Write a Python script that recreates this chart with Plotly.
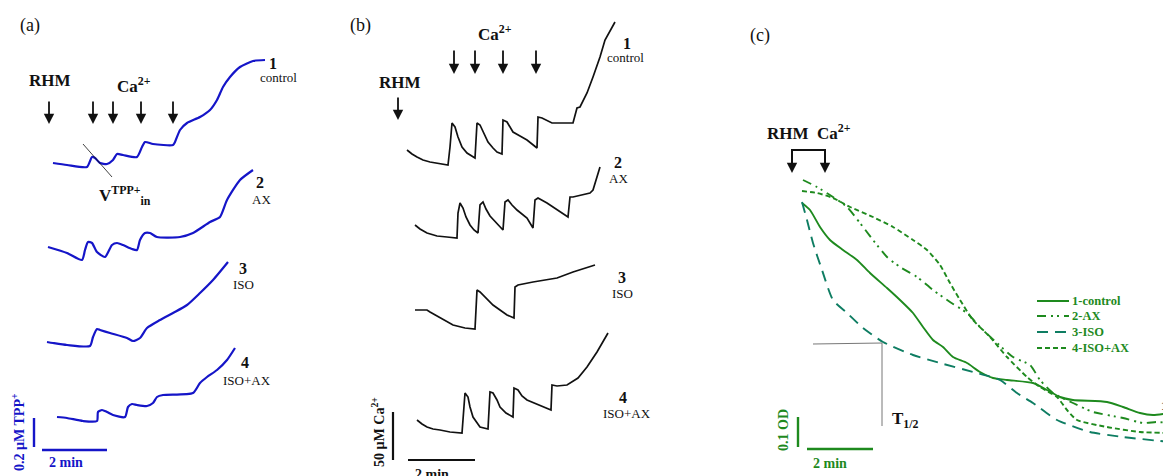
import plotly.graph_objects as go

# ---------------- data (chart units: x = time, y = signal, screen-down) -------------
# panel (a): TPP+ traces
a1_t = [53, 67, 87, 92, 95, 100, 107, 113, 117, 123, 137, 142, 145, 153, 173, 175, 180, 187, 200, 210, 217, 223, 230, 240, 253, 265]
a1_y = [163, 165, 167, 157, 158, 163, 164, 160, 154, 155, 157, 147, 142, 144, 145, 142, 130, 123, 117, 110, 100, 87, 77, 67, 61, 60]
a2_t = [48, 67, 82, 85, 88, 92, 97, 105, 112, 117, 123, 132, 137, 140, 145, 150, 157, 180, 193, 210, 220, 227, 240, 253]
a2_y = [247, 253, 260, 250, 242, 243, 252, 257, 245, 243, 245, 249, 250, 240, 233, 233, 237, 237, 233, 222, 217, 200, 180, 170]
a3_t = [47, 53, 67, 90, 93, 97, 100, 110, 127, 133, 140, 147, 160, 173, 187, 200, 213, 228]
a3_y = [342, 343, 345, 346, 337, 329, 330, 333, 338, 341, 338, 328, 320, 313, 305, 293, 280, 262]
a4_t = [57, 67, 83, 97, 98, 102, 107, 113, 125, 128, 132, 137, 147, 153, 157, 163, 193, 200, 207, 217, 227, 235]
a4_y = [417, 418, 421, 421, 412, 410, 412, 415, 417, 407, 404, 405, 406, 403, 397, 395, 393, 383, 377, 370, 360, 348]

# panel (b): Ca2+ traces
b1_t = [407, 412, 417, 423, 430, 440, 448, 450, 452, 455, 458, 462, 467, 475, 477, 480, 484, 488, 493, 497, 502, 503, 507, 513, 520, 527, 537, 538, 542, 552, 573, 577, 580, 587, 593, 600, 605, 615]
b1_y = [150, 154, 157, 160, 162, 164, 165, 147, 123, 127, 137, 147, 153, 158, 123, 125, 134, 142, 148, 152, 154, 120, 122, 132, 136, 140, 148, 117, 118, 123, 123, 108, 107, 93, 77, 57, 40, 22]
b2_t = [415, 420, 427, 437, 447, 457, 458, 460, 463, 466, 470, 474, 478, 480, 483, 486, 490, 497, 503, 505, 508, 512, 517, 527, 533, 535, 538, 547, 560, 568, 570, 573, 590, 593, 600]
b2_y = [225, 229, 233, 236, 237, 238, 213, 203, 208, 217, 225, 230, 233, 205, 202, 209, 216, 223, 230, 202, 200, 205, 210, 218, 228, 200, 198, 203, 212, 217, 197, 197, 193, 190, 167]
b3_t = [415, 427, 430, 440, 453, 465, 475, 477, 480, 493, 507, 514, 515, 518, 533, 557, 573, 595]
b3_y = [310, 310, 312, 318, 325, 328, 329, 290, 292, 305, 315, 318, 287, 285, 282, 278, 272, 265]
b4_t = [417, 422, 427, 433, 440, 450, 462, 465, 468, 470, 473, 477, 480, 488, 490, 493, 497, 500, 506, 513, 514, 518, 522, 527, 540, 551, 552, 557, 567, 578, 587, 597, 608]
b4_y = [420, 424, 427, 429, 430, 432, 433, 393, 397, 407, 417, 423, 427, 429, 392, 393, 400, 407, 413, 417, 388, 390, 396, 400, 405, 410, 385, 386, 385, 378, 367, 352, 333]

# panel (c): optical density traces
c1_t = [802, 810, 820, 830, 843, 857, 870, 887, 900, 913, 923, 933, 943, 953, 967, 980, 993, 1007, 1033, 1047, 1060, 1073, 1107, 1123, 1140, 1153, 1170]
c1_y = [203, 210, 227, 240, 250, 260, 273, 288, 300, 313, 327, 340, 347, 357, 363, 372, 378, 380, 383, 390, 397, 400, 402, 407, 413, 415, 413]
c2_t = [803, 817, 833, 847, 860, 873, 887, 900, 917, 933, 950, 967, 980, 997, 1013, 1030, 1040, 1053, 1073, 1093, 1123, 1143, 1157, 1170]
c2_y = [180, 187, 197, 207, 223, 240, 257, 267, 277, 290, 302, 313, 327, 343, 357, 365, 380, 393, 403, 412, 418, 423, 422, 423]
c3_t = [802, 807, 813, 822, 833, 847, 863, 883, 913, 940, 973, 1000, 1017, 1033, 1057, 1090, 1123, 1170]
c3_y = [202, 220, 243, 270, 300, 313, 328, 342, 355, 363, 372, 380, 393, 403, 420, 432, 437, 442]
c4_t = [802, 817, 833, 850, 873, 893, 913, 927, 940, 950, 960, 973, 990, 1007, 1027, 1040, 1057, 1067, 1077, 1107, 1140, 1170]
c4_y = [191, 193, 198, 207, 217, 227, 240, 250, 265, 283, 300, 320, 337, 357, 377, 387, 397, 410, 420, 427, 432, 433]
c_names = ["1-control", "2-AX", "3-ISO", "4-ISO+AX"]

# event arrows (time positions)
a_rhm = [49]
a_ca = [93, 113, 141, 173]
b_rhm = [398]
b_ca = [454, 475, 503, 536]
c_events = [792, 825]

BLUE = "#1515c8"
BLACK = "#111111"
GREEN = "#1e8a1e"
TEAL = "#0e7d62"
SERIF = "Liberation Serif, Times New Roman, serif"
C_COLORS = [GREEN, GREEN, TEAL, GREEN]
C_DASHES = ["solid", "9px,5px,2px,4px,2px,5px", "11px,7px", "5px,3px"]

fig = go.Figure()

def add(x, y, color, width, dash="solid", shape="spline", smooth=0.6):
    line = dict(color=color, width=width, dash=dash, shape=shape)
    if shape == "spline":
        line["smoothing"] = smooth
    fig.add_trace(go.Scatter(x=x, y=y, mode="lines", line=line,
                             showlegend=False, hoverinfo="skip"))

for t, y in [(a1_t, a1_y), (a2_t, a2_y), (a3_t, a3_y), (a4_t, a4_y)]:
    add(t, y, BLUE, 2.2)
for t, y in [(b1_t, b1_y), (b2_t, b2_y), (b3_t, b3_y), (b4_t, b4_y)]:
    add(t, y, BLACK, 1.7, shape="linear")
for (t, y), col, d in zip([(c1_t, c1_y), (c2_t, c2_y), (c3_t, c3_y), (c4_t, c4_y)], C_COLORS, C_DASHES):
    add(t, y, col, 1.9, d)

# tangent line and T1/2 guide
add([83, 112], [144, 177], BLACK, 0.8, shape="linear")
add([813, 882, 882], [344, 343, 426], "#777777", 1.0, shape="linear")
# bracket in panel c
add([c_events[0], c_events[0], c_events[1], c_events[1]], [166, 150, 150, 166], BLACK, 2.0, shape="linear")

# scale bars
add([34, 34], [418, 447], BLUE, 2.4, shape="linear")
add([42, 107], [450, 450], BLUE, 2.4, shape="linear")
add([393, 393], [412, 460], BLACK, 2.2, shape="linear")
add([408, 475], [460, 460], BLACK, 2.2, shape="linear")
add([798, 798], [417, 447], GREEN, 2.4, shape="linear")
add([807, 873], [449, 449], GREEN, 2.4, shape="linear")

ann = []
shapes = []

def arrow(x, y0, y1):
    ann.append(dict(x=x, y=y1, ax=x, ay=y0, xref="x", yref="y", axref="x", ayref="y",
                    showarrow=True, arrowhead=2, arrowsize=1.15, arrowwidth=1.8,
                    arrowcolor=BLACK, text=""))

for x in a_rhm + a_ca:
    arrow(x, 100, 124)
for x in b_rhm:
    arrow(x, 96, 120)
for x in b_ca:
    arrow(x, 49, 74)
for x in c_events:
    arrow(x, 152, 173)

def txt(x, y, s, size=15, bold=False, color=BLACK, angle=0, xanchor="center"):
    if bold:
        s = "<b>" + s + "</b>"
    ann.append(dict(x=x, y=y, xref="x", yref="y", text=s, showarrow=False,
                    font=dict(family=SERIF, size=size, color=color),
                    textangle=angle, xanchor=xanchor, yanchor="middle"))

# panel (a)
txt(30, 25, "(a)", 18)
txt(50, 80, "RHM", 17, True)
txt(134, 85, "Ca<sup>2+</sup>", 17, True)
txt(273, 63, "1", 16, True)
txt(278, 77, "control", 13)
txt(125, 195, "V<sup>TPP+</sup><sub>in</sub>", 17, True)
txt(260, 182, "2", 16, True)
txt(261, 199, "AX", 13)
txt(243, 268, "3", 16, True)
txt(243, 284, "ISO", 13)
txt(245, 362, "4", 16, True)
txt(247, 380, "ISO+AX", 13)
txt(66, 462, "2 min", 14, True, BLUE)
txt(18, 432, "0.2 µM TPP<sup>+</sup>", 14, True, BLUE, -90)

# panel (b)
txt(360, 25, "(b)", 18)
txt(495, 33, "Ca<sup>2+</sup>", 17, True)
txt(400, 82, "RHM", 17, True)
txt(627, 43, "1", 16, True)
txt(625, 57, "control", 13)
txt(618, 162, "2", 16, True)
txt(618, 178, "AX", 13)
txt(622, 277, "3", 16, True)
txt(622, 293, "ISO", 13)
txt(623, 397, "4", 16, True)
txt(627, 413, "ISO+AX", 13)
txt(432, 474, "2 min", 14, True)
txt(378, 432, "50 µM Ca<sup>2+</sup>", 14, True, BLACK, -90)

# panel (c)
txt(760, 35, "(c)", 18)
txt(809, 132, "RHM  Ca<sup>2+</sup>", 17, True)
txt(905, 420, "T<sub>1/2</sub>", 17, True)
txt(1164, 405, "1", 13, True)
txt(830, 463, "2 min", 14, True, GREEN)
txt(783, 430, "0.1 OD", 14, True, GREEN, -90)

# legend key for panel (c)
leg_y = [301, 316, 332, 348]
for name, col, d, yy in zip(c_names, C_COLORS, C_DASHES, leg_y):
    shapes.append(dict(type="line", xref="x", yref="y", x0=1037, x1=1069, y0=yy, y1=yy,
                       line=dict(color=col, width=2.0, dash=d)))
    txt(1070, yy, name, 12.5, True, GREEN, xanchor="left")

# the page body has an 8px margin: figure sized to fit, axes ranges matched to window pixels
fig.update_layout(
    width=1163, height=468,
    margin=dict(l=0, r=0, t=0, b=0),
    paper_bgcolor="white", plot_bgcolor="white",
    xaxis=dict(range=[8, 1171], visible=False, fixedrange=True),
    yaxis=dict(range=[476, 8], visible=False, fixedrange=True),
    annotations=ann,
    shapes=shapes,
    showlegend=False,
)

fig.write_html("out.html")
